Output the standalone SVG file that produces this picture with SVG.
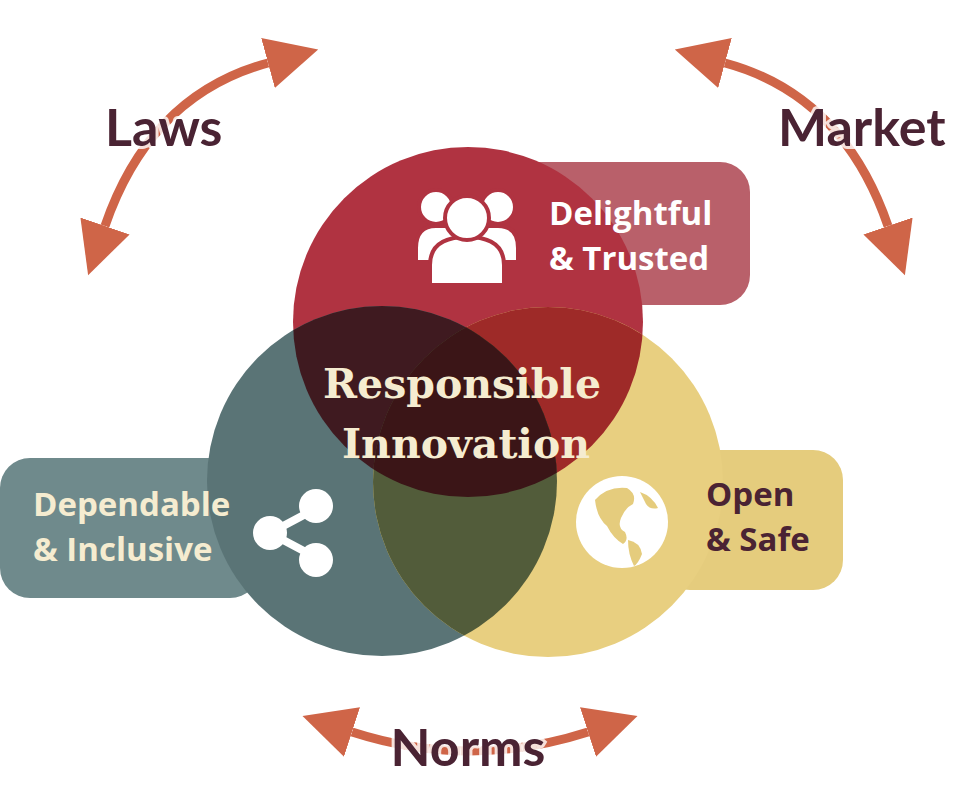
<svg xmlns="http://www.w3.org/2000/svg" width="959" height="788" viewBox="0 0 959 788">
<style>
.lbl{font-family:Lato,"Open Sans",sans-serif;font-weight:bold;font-size:52px;fill:#4a2333;stroke:rgba(255,255,255,0.8);stroke-width:6px;paint-order:stroke}
.cap{font-family:"Open Sans",sans-serif;font-weight:bold;font-size:33px}
.arc{fill:none;stroke:#cf6548;stroke-width:9;marker-start:url(#ah);marker-end:url(#ah)}
</style>
<defs>
<marker id="ah" markerUnits="userSpaceOnUse" markerWidth="60" markerHeight="60" refX="0" refY="0" viewBox="0 -30 60 60" orient="auto-start-reverse">
<path d="M0,-26 L52,0 L0,26 z" fill="#cf6548"/>
</marker>
<clipPath id="cr"><circle cx="468" cy="322" r="175"/></clipPath>
<clipPath id="ct"><circle cx="382" cy="481" r="175"/></clipPath>
</defs>
<g id="connectors">
<path class="arc" d="M105,226 Q150,95 268,63"/>
<path class="arc" d="M888,226 Q843,95 725,63"/>
<path class="arc" d="M352,732 Q470,770 588,732"/>
</g>
<g id="laws"><text class="lbl" x="105" y="146">Laws</text></g>
<g id="market"><text class="lbl" x="778" y="146">Market</text></g>
<g id="norms"><text class="lbl" x="468" y="766" text-anchor="middle">Norms</text></g>
<g id="delightful">
<rect x="500" y="162" width="250" height="143" rx="30" fill="#b9606a"/>
</g>
<g id="dependable">
<rect x="0" y="458" width="260" height="140" rx="30" fill="#6f8a8c"/>
</g>
<g id="open">
<rect x="660" y="450" width="183" height="140" rx="30" fill="#e5cc7d"/>
</g>
<g id="circles">
<circle cx="468" cy="322" r="175" fill="#b03341"/>
<circle cx="382" cy="481" r="175" fill="#5a7476"/>
<circle cx="548" cy="482" r="175" fill="#e8cf80"/>
<circle cx="548" cy="482" r="175" fill="#9e2a28" clip-path="url(#cr)"/>
<circle cx="382" cy="481" r="175" fill="#3f1a20" clip-path="url(#cr)"/>
<circle cx="548" cy="482" r="175" fill="#525c3a" clip-path="url(#ct)"/>
<g clip-path="url(#cr)"><circle cx="548" cy="482" r="175" fill="#3b1517" clip-path="url(#ct)"/></g>
</g>
<g id="center">
<text font-family="DejaVu Serif,serif" font-weight="bold" font-size="41" fill="#f5ecd0" text-anchor="middle"><tspan x="462" y="398">Responsible</tspan><tspan x="466" y="458">Innovation</tspan></text>
</g>
<g id="people-icon" fill="#fff" stroke="#b03341" stroke-width="4">
<circle cx="436" cy="207" r="17"/><circle cx="498" cy="207" r="17"/>
<path d="M416,248 q0,-22 20,-22 h62 q20,0 20,22 v14 h-102 z"/>
<path d="M430,285 v-20 q0,-28 37,-28 q37,0 37,28 v20 z"/>
<circle cx="467" cy="218" r="22"/>
</g>
<text class="cap" fill="#fff"><tspan x="549" y="225">Delightful</tspan><tspan x="549" y="270">&amp; Trusted</tspan></text>
<g id="share-icon" fill="#fff">
<path d="M270,533 L317,508 M270,533 L317,558" stroke="#fff" stroke-width="8"/>
<circle cx="316" cy="506" r="17"/><circle cx="270" cy="533" r="17"/><circle cx="316" cy="560" r="17"/>
</g>
<text class="cap" fill="#f5ecd0"><tspan x="33" y="516">Dependable</tspan><tspan x="33" y="561">&amp; Inclusive</tspan></text>
<g id="globe">
<circle cx="622" cy="522" r="46" fill="#fff"/>
<path d="M595,500 q12,-14 32,-12 q10,6 6,16 q-8,4 -12,14 q-4,10 4,14 q4,8 -2,12 q-10,-6 -16,-18 q-10,-8 -12,-26 z" fill="#e5cc7d"/>
<path d="M628,540 q12,2 14,14 q-4,10 -8,12 q-6,-12 -6,-26 z" fill="#e5cc7d"/>
<path d="M640,492 q12,4 18,16 q-8,2 -12,-4 z" fill="#e5cc7d"/>
</g>
<text class="cap" fill="#4a2333"><tspan x="706" y="506">Open</tspan><tspan x="706" y="551">&amp; Safe</tspan></text>
</svg>
